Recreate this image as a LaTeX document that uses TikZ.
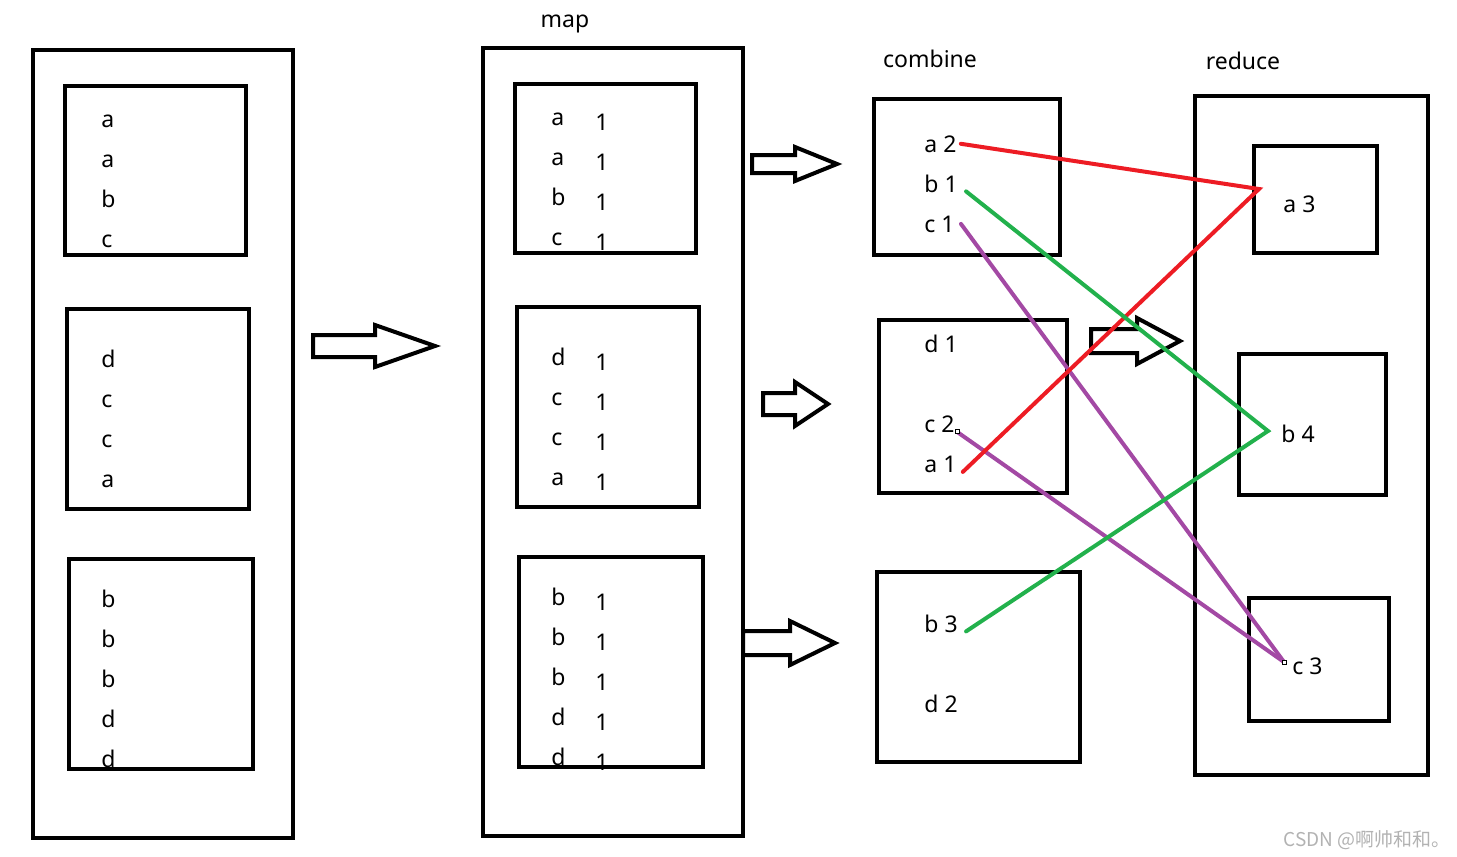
\documentclass[tikz,border=0pt]{standalone}
\usepackage{fontspec}
\setmainfont{Noto Sans}
\newfontfamily\cjkfont{Noto Sans CJK SC}
\usetikzlibrary{positioning}

% hollow block arrow: tail x, neck x, tip x, mid y, half shaft, half head
\newcommand{\blockarrow}[6]{%
  \draw[fatarr] (#1,{#4-#5}) -- (#2,{#4-#5}) -- (#2,{#4-#6}) -- (#3,#4)
    -- (#2,{#4+#6}) -- (#2,{#4+#5}) -- (#1,{#4+#5}) -- cycle;}

\begin{document}
\begin{tikzpicture}[
  x=0.5pt,y=-0.5pt,
  box/.style={draw,line width=2pt},
  fatarr/.style={draw,line width=2pt,line join=miter},
  txt/.style={anchor=base west,inner sep=0pt,font=\fontsize{11.5}{14}\selectfont},
  ttl/.style={anchor=base,inner sep=0pt,font=\fontsize{11.5}{14}\selectfont},
  lk/.style={line width=2pt,line cap=round},
  dot/.style={draw,thin,fill=white,minimum size=2pt,inner sep=0pt}
]
\useasboundingbox (0,0) rectangle (1457,857);

% input splits
\draw[box] (33,50) rectangle (293,838);
\draw[box] (65,86) rectangle (246,255);
\draw[box] (67,309) rectangle (249,509);
\draw[box] (69,559) rectangle (253,769);

\node[txt] (i1) at (101,127) {a};
\node[txt] (i2) at (101,167) {a};
\node[txt] (i3) at (101,207) {b};
\node[txt] (i4) at (101,247) {c};
\node[txt] (i5) at (101,367) {d};
\node[txt] (i6) at (101,407) {c};
\node[txt] (i7) at (101,447) {c};
\node[txt] (i8) at (101,487) {a};
\node[txt] (i9) at (101,607) {b};
\node[txt] (i10) at (101,647) {b};
\node[txt] (i11) at (101,687) {b};
\node[txt] (i12) at (101,727) {d};
\node[txt] (i13) at (101,767) {d};

\blockarrow{313}{375}{435}{346}{11}{21}

% map
\node[ttl] (map) at (565,27) {map};
\draw[box] (483,48) rectangle (743,836);
\draw[box] (515,84) rectangle (696,253);
\draw[box] (517,307) rectangle (699,507);
\draw[box] (519,557) rectangle (703,767);

\node[txt] (m1) at (551,125) {a};
\node[txt] (m2) at (551,165) {a};
\node[txt] (m3) at (551,205) {b};
\node[txt] (m4) at (551,245) {c};
\node[txt] (m5) at (551,365) {d};
\node[txt] (m6) at (551,405) {c};
\node[txt] (m7) at (551,445) {c};
\node[txt] (m8) at (551,485) {a};
\node[txt] (m9) at (551,605) {b};
\node[txt] (m10) at (551,645) {b};
\node[txt] (m11) at (551,685) {b};
\node[txt] (m12) at (551,725) {d};
\node[txt] (m13) at (551,765) {d};

\node[txt] (n1) at (595,130) {1};
\node[txt] (n2) at (595,170) {1};
\node[txt] (n3) at (595,210) {1};
\node[txt] (n4) at (595,250) {1};
\node[txt] (n5) at (595,370) {1};
\node[txt] (n6) at (595,410) {1};
\node[txt] (n7) at (595,450) {1};
\node[txt] (n8) at (595,490) {1};
\node[txt] (n9) at (595,610) {1};
\node[txt] (n10) at (595,650) {1};
\node[txt] (n11) at (595,690) {1};
\node[txt] (n12) at (595,730) {1};
\node[txt] (n13) at (595,770) {1};

\blockarrow{752}{795}{837}{164}{9}{17}
\blockarrow{763}{795}{828}{404}{11}{22}
\blockarrow{743}{790}{835}{643}{12}{22}

% combine
\node[ttl] (comb) at (930,67) {combine};
\draw[box] (874,99) rectangle (1060,255);
\draw[box] (879,320) rectangle (1067,493);
\draw[box] (877,572) rectangle (1080,762);

\node[txt] (a2) at (924,152) {a 2};
\node[txt] (b1) at (924,192) {b 1};
\node[txt] (c1) at (924,232) {c 1};
\node[txt] (d1) at (924,352) {d 1};
\node[txt] (c2) at (924,432) {c 2};
\node[txt] (a1) at (924,472) {a 1};
\node[txt] (b3) at (924,632) {b 3};
\node[txt] (d2) at (924,712) {d 2};

\blockarrow{1091}{1137}{1180}{341}{12}{23}

% reduce
\node[ttl] (red) at (1243,69) {reduce};
\draw[box] (1195,96) rectangle (1428,775);
\draw[box] (1254,146) rectangle (1377,253);
\draw[box] (1239,354) rectangle (1386,495);
\draw[box] (1249,598) rectangle (1389,721);

\node[txt] (a3) at (1283,212) {a 3};
\node[txt] (b4) at (1281,442) {b 4};
\node[txt] (c3) at (1292,674) {c 3};

\coordinate (ha) at (1259,189);
\coordinate (hb) at (1268,431);
\coordinate (hc) at (1284,662);

% shuffle lines
\draw[lk,color={rgb,255:red,163;green,73;blue,164}] ([xshift=3]c1.east) -- (hc);
\draw[lk,color={rgb,255:red,163;green,73;blue,164}] ([xshift=1,yshift=-4]c2.east) -- (hc);
\draw[lk,color={rgb,255:red,237;green,28;blue,36}] ([xshift=2]a2.east) -- (ha) -- ([xshift=3,yshift=-4]a1.east);
\draw[lk,color={rgb,255:red,34;green,177;blue,76}] ([xshift=4,yshift=-4]b1.east) -- (hb) -- ([xshift=4,yshift=-4]b3.east);
\node[dot] at ([xshift=1,yshift=-4]c2.east) {};
\node[dot] at (hc) {};

\node[anchor=base east,inner sep=0pt,text=gray!60,font=\cjkfont\fontsize{9.5}{11}\selectfont] (wm) at (1451,846) {CSDN @啊帅和和。};
\end{tikzpicture}
\end{document}
